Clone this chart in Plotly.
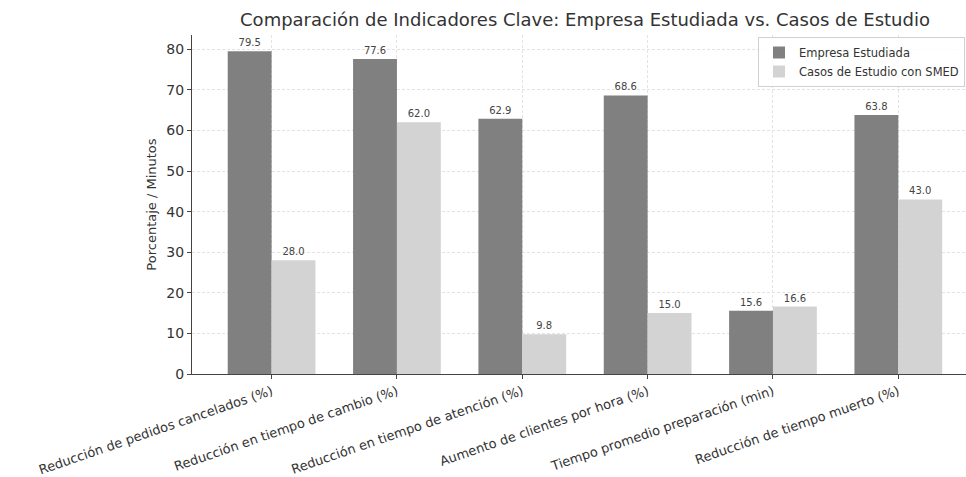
import plotly.graph_objects as go

categories = [
    "Reducción de pedidos cancelados (%)",
    "Reducción en tiempo de cambio (%)",
    "Reducción en tiempo de atención (%)",
    "Aumento de clientes por hora (%)",
    "Tiempo promedio preparación (min)",
    "Reducción de tiempo muerto (%)",
]
empresa = [79.5, 77.6, 62.9, 68.6, 15.6, 63.8]
casos = [28.0, 62.0, 9.8, 15.0, 16.6, 43.0]
series_names = ["Empresa Estudiada", "Casos de Estudio con SMED"]
title = "Comparación de Indicadores Clave: Empresa Estudiada vs. Casos de Estudio"
ylabel = "Porcentaje / Minutos"
ytickvals = [0, 10, 20, 30, 40, 50, 60, 70, 80]

FONT = "DejaVu Sans"
fig = go.Figure()
for name, vals, col in [(series_names[0], empresa, "#808080"), (series_names[1], casos, "#d3d3d3")]:
    fig.add_trace(go.Bar(
        x=categories, y=vals, name=name, marker=dict(color=col, line=dict(width=0)),
        texttemplate="%{y:.1f}", textposition="outside",
        textfont=dict(family=FONT, size=10, color="#444444"), cliponaxis=False,
    ))

fig.update_layout(
    width=966, height=477,
    margin=dict(l=192, r=0, t=35, b=103, autoexpand=False),
    paper_bgcolor="white", plot_bgcolor="white",
    barmode="group", bargap=0.3, bargroupgap=0,
    font=dict(family=FONT, color="#333333"),
    title=dict(text=title, x=585 / 966, xanchor="center", y=1 - 20 / 477, yanchor="middle",
               font=dict(family=FONT, size=18, color="#333333")),
    legend=dict(x=(758 - 192) / 774, xanchor="left", y=1 - 2 / 339, yanchor="top",
                bgcolor="rgba(255,255,255,0.85)",
                bordercolor="#d0d0d0", borderwidth=1, font=dict(family=FONT, size=11.5, color="#333333"),
                itemwidth=30, tracegroupgap=0),
)
fig.update_xaxes(
    range=[-0.635, 5.54], showline=True, linecolor="#444444", linewidth=1.2,
    ticks="outside", ticklen=4, tickcolor="#444444", tickangle=-19,
    tickfont=dict(family=FONT, size=13, color="#333333"),
    showgrid=True, gridcolor="#e3e3e3", griddash="3px,2px", gridwidth=1,
)
fig.update_yaxes(
    range=[0, 83.5], tickvals=ytickvals, showline=True, linecolor="#444444", linewidth=1.2,
    ticks="outside", ticklen=4, tickcolor="#444444",
    tickfont=dict(family=FONT, size=14, color="#333333"),
    showgrid=True, gridcolor="#e3e3e3", griddash="3px,2px", gridwidth=1, zeroline=False,
    title=dict(text=ylabel, font=dict(family=FONT, size=13, color="#333333"), standoff=6),
)
fig.write_html("out.html")
